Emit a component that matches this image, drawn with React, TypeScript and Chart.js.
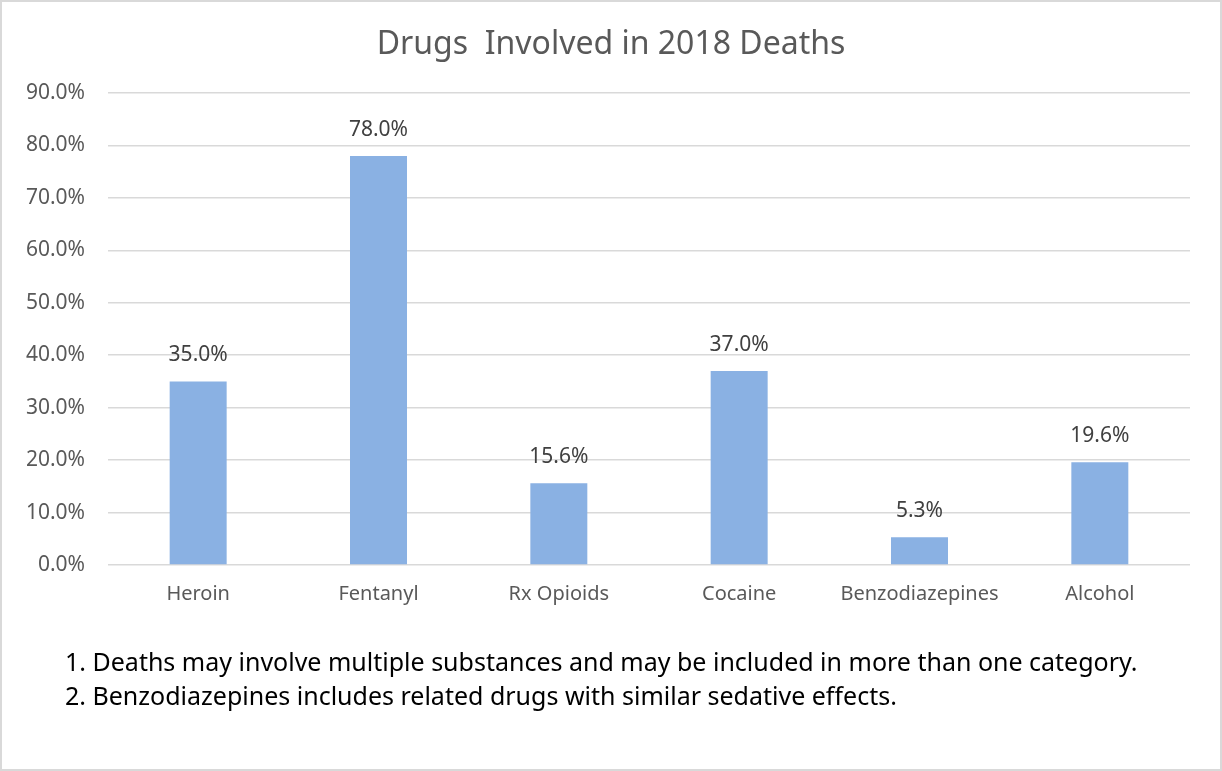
import React, { useEffect, useRef } from "react";
import { Chart, registerables } from "chart.js";

Chart.register(...registerables);

const categories = ["Heroin", "Fentanyl", "Rx Opioids", "Cocaine", "Benzodiazepines", "Alcohol"];
const values = [35.0, 78.0, 15.6, 37.0, 5.3, 19.6];
const titleText = "Drugs  Involved in 2018 Deaths";
const footnotes = [
  "1. Deaths may involve multiple substances and may be included in more than one category.",
  "2. Benzodiazepines includes related drugs with similar sedative effects.",
];
const yMin = 0;
const yMax = 90;
const yStep = 10;

const FONT = "'Noto Sans', 'Open Sans', sans-serif";

const dataLabelPlugin = {
  id: "dataLabels",
  afterDatasetsDraw(chart: any) {
    const ctx = chart.ctx;
    const meta = chart.getDatasetMeta(0);
    ctx.save();
    ctx.font = `21px ${FONT}`;
    ctx.fillStyle = "#404040";
    ctx.textAlign = "center";
    ctx.textBaseline = "middle";
    meta.data.forEach((bar: any, i: number) => {
      const v = chart.data.datasets[0].data[i] as number;
      ctx.fillText(v.toFixed(1) + "%", bar.x, bar.y - 26);
    });
    ctx.restore();
  },
};

const borderPlugin = {
  id: "frame",
  beforeDraw(chart: any) {
    const ctx = chart.ctx;
    ctx.save();
    ctx.fillStyle = "#ffffff";
    ctx.fillRect(0, 0, chart.width, chart.height);
    ctx.strokeStyle = "#d9d9d9";
    ctx.lineWidth = 2;
    ctx.strokeRect(1, 1, chart.width - 2, chart.height - 2);
    ctx.restore();
  },
};

export default function App() {
  const ref = useRef<HTMLCanvasElement>(null);

  useEffect(() => {
    document.body.style.margin = "0";
    if (!ref.current) return;
    const chart = new Chart(ref.current, {
      type: "bar",
      data: {
        labels: categories,
        datasets: [
          {
            data: values,
            backgroundColor: "#8AB1E3",
            borderWidth: 0,
            barPercentage: 0.316,
            categoryPercentage: 1,
          },
        ],
      },
      options: {
        responsive: false,
        animation: false,
        devicePixelRatio: 1,
        layout: { padding: { top: 0, left: 0, right: 0, bottom: 148 } },
        plugins: {
          legend: { display: false },
          tooltip: { enabled: false },
          title: {
            display: true,
            text: titleText,
            color: "#595959",
            font: { family: FONT, size: 32, weight: "normal" },
            padding: { top: 26, bottom: 28.6 },
          },
        },
        scales: {
          x: {
            grid: { display: false, drawTicks: false },
            border: { display: false },
            ticks: {
              color: "#595959",
              font: { family: FONT, size: 20 },
              padding: 17,
              maxRotation: 0,
              autoSkip: false,
            },
          },
          y: {
            min: yMin,
            max: yMax,
            afterFit(scale: any) {
              scale.width = 108;
            },
            grid: { color: "#d9d9d9", lineWidth: 1.5, drawTicks: false },
            border: { display: false },
            ticks: {
              stepSize: yStep,
              color: "#595959",
              font: { family: FONT, size: 21 },
              padding: 23,
              callback: (v: any) => Number(v).toFixed(1) + "%",
            },
          },
          yRight: {
            position: "right",
            min: yMin,
            max: yMax,
            afterFit(scale: any) {
              scale.width = 32;
            },
            grid: { display: false, drawTicks: false },
            border: { display: false },
            ticks: { display: false },
          },
        },
      },
      plugins: [borderPlugin, dataLabelPlugin],
    });
    return () => chart.destroy();
  }, []);

  return (
    <div style={{ position: "relative", width: 1222, height: 771 }}>
      <canvas ref={ref} width={1222} height={771} style={{ display: "block" }} />
      {footnotes.map((t, i) => (
        <div
          key={i}
          style={{
            position: "absolute",
            left: 65,
            top: 661 - 17 + i * 34,
            height: 34,
            lineHeight: "34px",
            fontFamily: FONT,
            fontSize: 25,
            color: "#000000",
            whiteSpace: "nowrap",
          }}
        >
          {t}
        </div>
      ))}
    </div>
  );
}
